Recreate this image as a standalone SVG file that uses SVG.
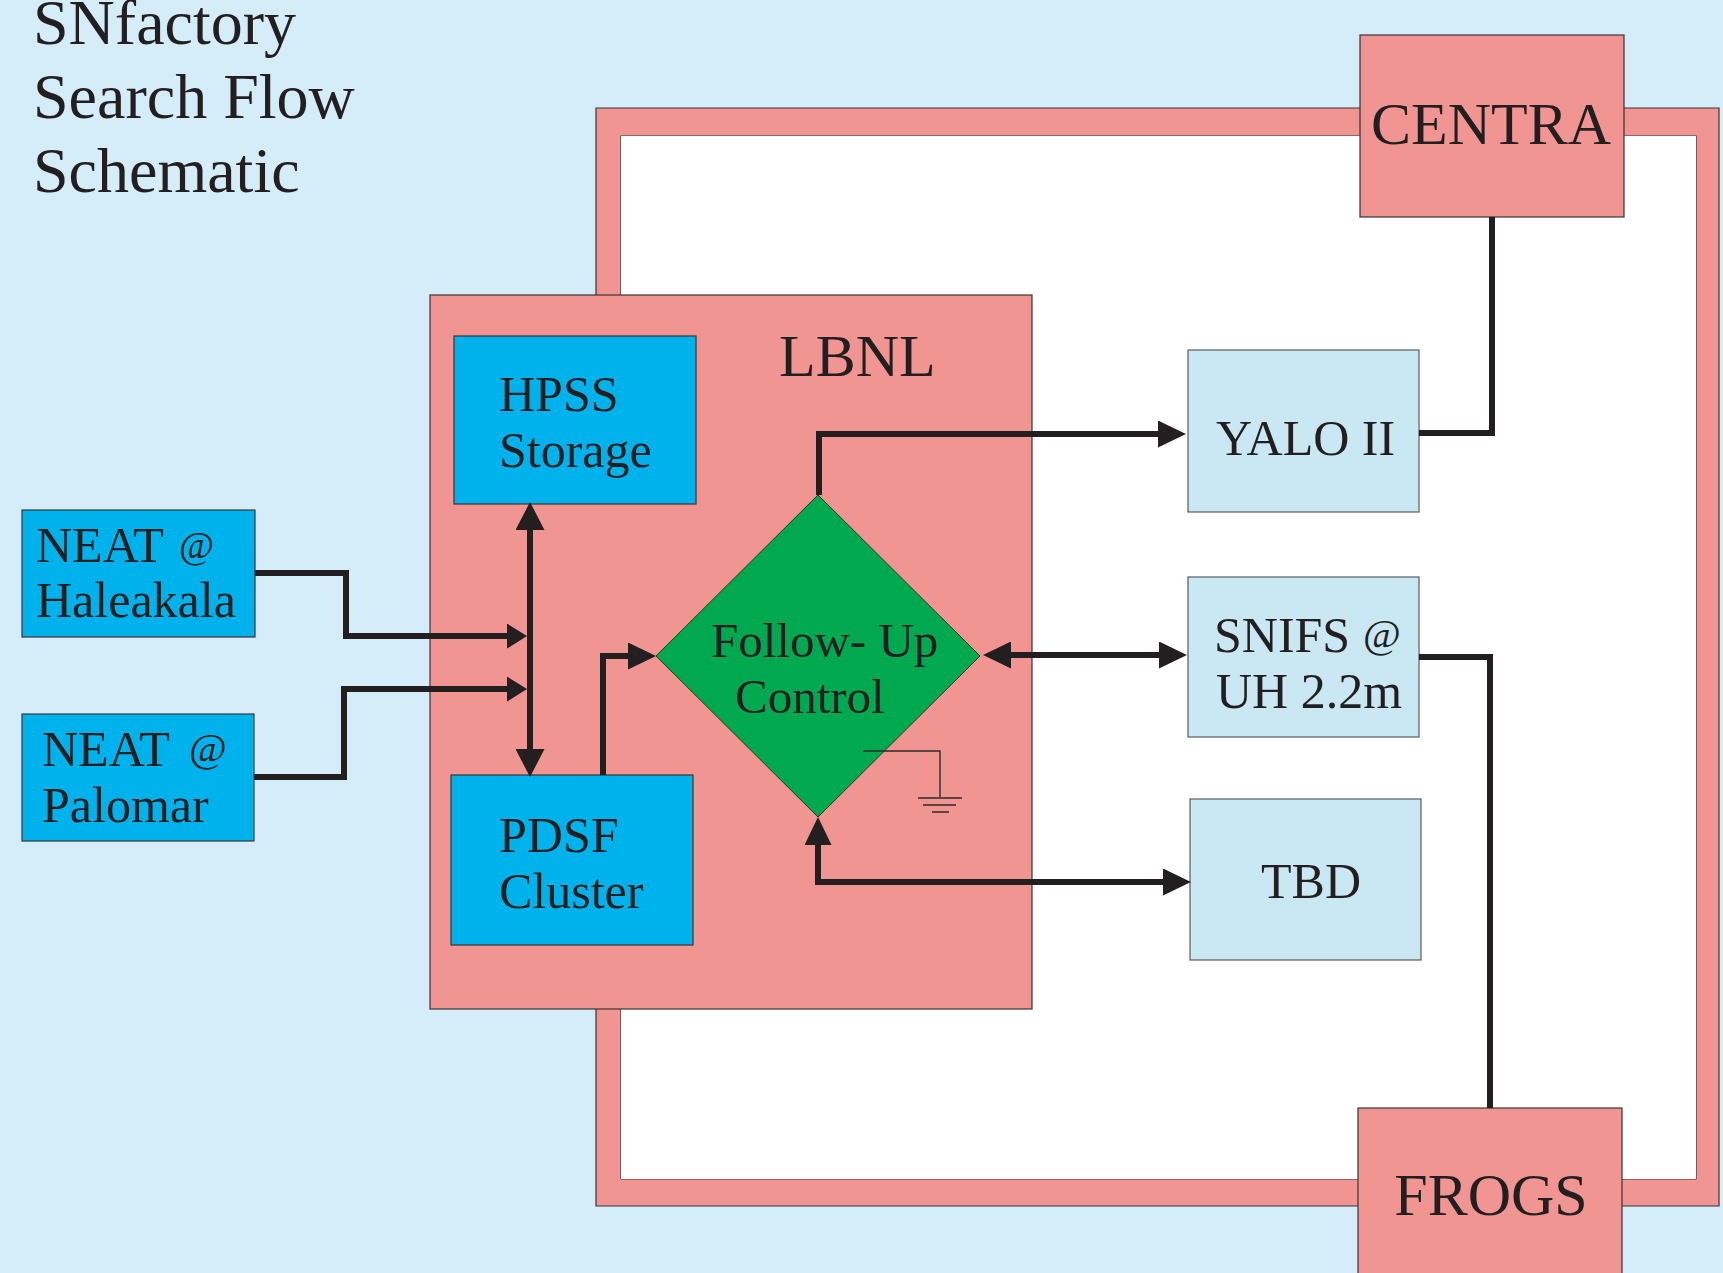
<svg xmlns="http://www.w3.org/2000/svg" width="1723" height="1273" viewBox="0 0 1723 1273">
<defs>
<style>
.t{font-family:"Liberation Serif","Times New Roman",serif;fill:#231f20}
.pink{fill:#f09591;stroke:#3a3536;stroke-width:1.2}
.cyan{fill:#00b2ec;stroke:#3a3536;stroke-width:1.2}
.lb{fill:#c9e8f4;stroke:#5a5a5a;stroke-width:1.2}
.c{fill:none;stroke:#231f20;stroke-width:6;stroke-linejoin:miter}
.thin{fill:none;stroke:#2e2a2b;stroke-width:1.4}
</style>
<marker id="arr" markerUnits="userSpaceOnUse" viewBox="0 0 28 27" markerWidth="28" markerHeight="27" refX="20" refY="13.5" orient="auto-start-reverse"><path d="M0,0 L28,13.5 L0,27 Z" fill="#231f20"/></marker>
<marker id="arrS" markerUnits="userSpaceOnUse" viewBox="0 0 20 25" markerWidth="20" markerHeight="25" refX="12" refY="12.5" orient="auto-start-reverse"><path d="M0,0 L20,12.5 L0,25 Z" fill="#231f20"/></marker>
<marker id="arrB" markerUnits="userSpaceOnUse" viewBox="0 0 28 29" markerWidth="28" markerHeight="29" refX="18" refY="14.5" orient="auto-start-reverse"><path d="M0,0 L28,14.5 L0,29 Z" fill="#231f20"/></marker>
</defs>
<rect x="0" y="0" width="1723" height="1273" fill="#d5ecf9"/>
<g id="title">
<text class="t" x="33" y="44" font-size="64">SNfactory</text>
<text class="t" x="33" y="118" font-size="64">Search Flow</text>
<text class="t" x="33" y="192" font-size="64">Schematic</text>
</g>
<g id="ring">
<path d="M596,108 H1719 V1206 H596 Z M621,136 V1179 H1696 V136 Z" fill="#f09591" fill-rule="evenodd" stroke="#3a3536" stroke-width="1.2"/>
<rect x="621" y="136" width="1075" height="1043" fill="#ffffff"/>
</g>
<g id="lbnl">
<rect class="pink" x="430" y="295" width="602" height="714"/>
<text class="t" x="779" y="376" font-size="60">LBNL</text>
</g>
<g id="centra">
<rect class="pink" x="1360" y="35" width="264" height="182"/>
<text class="t" x="1491" y="144" font-size="60" text-anchor="middle">CENTRA</text>
</g>
<g id="frogs">
<rect class="pink" x="1358" y="1108" width="264" height="200"/>
<text class="t" x="1491" y="1215" font-size="60" text-anchor="middle">FROGS</text>
</g>
<g id="hpss">
<rect class="cyan" x="454" y="336" width="242" height="168"/>
<text class="t" x="499" y="411" font-size="50">HPSS</text>
<text class="t" x="499" y="467" font-size="50">Storage</text>
</g>
<g id="pdsf">
<rect class="cyan" x="451" y="775" width="242" height="170"/>
<text class="t" x="499" y="852" font-size="50">PDSF</text>
<text class="t" x="499" y="908" font-size="50">Cluster</text>
</g>
<g id="neat-haleakala">
<rect class="cyan" x="22" y="510" width="233" height="127"/>
<text class="t" x="36" y="562" font-size="50">NEAT <tspan x="179" y="558" font-size="38">@</tspan></text>
<text class="t" x="36" y="617" font-size="50">Haleakala</text>
</g>
<g id="neat-palomar">
<rect class="cyan" x="22" y="714" width="232" height="127"/>
<text class="t" x="42" y="766" font-size="50">NEAT <tspan x="189" y="761" font-size="41">@</tspan></text>
<text class="t" x="42" y="822" font-size="50">Palomar</text>
</g>
<g id="followup">
<path d="M818,495 L980,656 L818,817 L656,656 Z" fill="#00a84f" stroke="#1f3a28" stroke-width="1"/>
<text class="t" x="711" y="657" font-size="49">Follow- Up</text>
<text class="t" x="735" y="713" font-size="49">Control</text>
<g id="ground">
<path class="thin" d="M863,751 H940 V797"/>
<path class="thin" d="M918,798 H962 M923,805 H956 M932,812 H949"/>
</g>
</g>
<g id="yalo">
<rect class="lb" x="1188" y="350" width="231" height="162"/>
<text class="t" x="1216" y="455" font-size="50">YALO II</text>
</g>
<g id="snifs">
<rect class="lb" x="1188" y="577" width="231" height="160"/>
<text class="t" x="1214" y="652" font-size="50">SNIFS <tspan x="1363" y="647" font-size="41">@</tspan></text>
<text class="t" x="1216" y="708" font-size="50">UH 2.2m</text>
</g>
<g id="tbd">
<rect class="lb" x="1190" y="799" width="231" height="161"/>
<text class="t" x="1261" y="898" font-size="50">TBD</text>
</g>
<g id="connectors">
<path class="c" d="M255,573 H346 V636 H519" marker-end="url(#arrS)"/>
<path class="c" d="M254,777 H344 V689 H519" marker-end="url(#arrS)"/>
<path class="c" d="M530,512 V767" stroke-width="9" marker-start="url(#arrB)" marker-end="url(#arrB)"/>
<path class="c" d="M603,775 V656 H648" marker-end="url(#arr)"/>
<path class="c" d="M819,495 V434 H1178" marker-end="url(#arr)"/>
<path class="c" d="M991,655 H1179" marker-start="url(#arr)" marker-end="url(#arr)"/>
<path class="c" d="M818,825 V882 H1183" marker-start="url(#arr)" marker-end="url(#arr)"/>
<path class="c" d="M1492,217 V433 H1419"/>
<path class="c" d="M1419,657 H1490 V1108"/>
</g>
</svg>
